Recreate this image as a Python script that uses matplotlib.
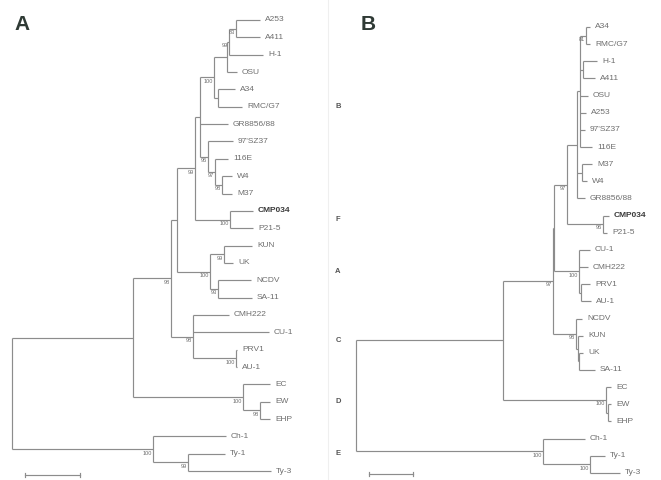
import matplotlib
matplotlib.use("Agg")
import matplotlib.pyplot as plt

# ---------------- Panel A data ----------------
leaves_A = ["A253", "A411", "H-1", "OSU", "A34", "RMC/G7", "GR8856/88", "97'SZ37",
            "116E", "W4", "M37", "CMP034", "P21-5", "KUN", "UK", "NCDV", "SA-11",
            "CMH222", "CU-1", "PRV1", "AU-1", "EC", "EW", "EHP", "Ch-1", "Ty-1", "Ty-3"]
tips_A = [248, 248, 251, 225, 223, 230, 216, 221, 216, 220, 220, 241, 241, 240, 221,
          239, 240, 217, 257, 225, 225, 258, 258, 258, 214, 213, 259]
# (node name, depth, children, bootstrap)
nodes_A = [
    ("AB", 224, ["A253", "A411"], "83"),
    ("Ha", 217, ["AB", "H-1"], "99"),
    ("Hb", 215, ["Ha", "OSU"], ""),
    ("R", 206, ["A34", "RMC/G7"], ""),
    ("N100", 202, ["Hb", "R"], "100"),
    ("U", 210, ["W4", "M37"], "98"),
    ("T", 203, ["116E", "U"], "97"),
    ("S", 196, ["97'SZ37", "T"], "96"),
    ("X", 188, ["N100", "GR8856/88", "S"], ""),
    ("Fn", 218, ["CMP034", "P21-5"], "100"),
    ("Y", 183, ["X", "Fn"], "99"),
    ("KU", 212, ["KUN", "UK"], "99"),
    ("NS", 206, ["NCDV", "SA-11"], "93"),
    ("An", 198, ["KU", "NS"], "100"),
    ("Z", 165, ["Y", "An"], ""),
    ("PA", 224, ["PRV1", "AU-1"], "100"),
    ("Cn", 181, ["CMH222", "CU-1", "PA"], "98"),
    ("W", 159, ["Z", "Cn"], "98"),
    ("EE", 248, ["EW", "EHP"], "98"),
    ("Dn", 231, ["EC", "EE"], "100"),
    ("V", 121, ["W", "Dn"], ""),
    ("Ty", 176, ["Ty-1", "Ty-3"], "99"),
    ("En", 141, ["Ch-1", "Ty"], "100"),
    ("root", 0, ["V", "En"], ""),
]
scale_A = 55

# ---------------- Panel B data ----------------
leaves_B = ["A34", "RMC/G7", "H-1", "A411", "OSU", "A253", "97'SZ37", "116E", "M37",
            "W4", "GR8856/88", "CMP034", "P21-5", "CU-1", "CMH222", "PRV1", "AU-1",
            "NCDV", "KUN", "UK", "SA-11", "EC", "EW", "EHP", "Ch-1", "Ty-1", "Ty-3"]
tips_B = [234, 234, 241, 239, 232, 230, 229, 236, 236, 231, 229, 253, 251, 234, 232,
          234, 235, 226, 227, 227, 239, 255, 255, 255, 229, 249, 264]
nodes_B = [
    ("AR", 230, ["A34", "RMC/G7"], "81"),
    ("HA", 227, ["H-1", "A411"], ""),
    ("T1", 224, ["AR", "HA", "OSU", "A253", "97'SZ37", "116E"], ""),
    ("MW", 226, ["M37", "W4"], ""),
    ("Bn", 221, ["T1", "MW", "GR8856/88"], ""),
    ("Fn", 247, ["CMP034", "P21-5"], "96"),
    ("BF", 211, ["Bn", "Fn"], "97"),
    ("PA", 225, ["PRV1", "AU-1"], ""),
    ("Cn", 223, ["CU-1", "CMH222", "PA"], "100"),
    ("G2", 198, ["BF", "Cn"], ""),
    ("sub2", 223, ["UK", "SA-11"], ""),
    ("sub", 222, ["KUN", "sub2"], ""),
    ("An", 220, ["NCDV", "sub"], "98"),
    ("G1", 197, ["G2", "An"], "97"),
    ("EE", 252, ["EW", "EHP"], ""),
    ("Dn", 250, ["EC", "EE"], "100"),
    ("U", 147, ["G1", "Dn"], ""),
    ("Ty", 234, ["Ty-1", "Ty-3"], "100"),
    ("En", 187, ["Ch-1", "Ty"], "100"),
    ("root", 0, ["U", "En"], ""),
]
scale_B = 44

clade_names = ["B", "F", "A", "C", "D", "E"]
clade_members = [leaves_A[0:11], leaves_A[11:13], leaves_A[13:17],
                 leaves_A[17:21], leaves_A[21:24], leaves_A[24:27]]

LINE = "#8c8c8c"
TEXT = "#6e6e6e"
FONT = ["Liberation Sans", "DejaVu Sans"]

W, H = 661, 480
fig = plt.figure(figsize=(W / 100, H / 100), dpi=100)
fig.patch.set_facecolor("white")


def draw_tree(ax, leaves, tips, nodes, scale, tick_h):
    ypos = {n: i for i, n in enumerate(leaves)}
    xpos = {n: t for n, t in zip(leaves, tips)}
    nd = {n[0]: n for n in nodes}

    def gety(name):
        if name in ypos:
            return ypos[name]
        ch = nd[name][2]
        y = (gety(ch[0]) + gety(ch[-1])) / 2
        ypos[name] = y
        return y

    for name, x, ch, sup in nodes:
        xpos[name] = x
    for name, x, ch, sup in nodes:
        gety(name)
    for name, x, ch, sup in nodes:
        ys = [ypos[c] for c in ch]
        ax.plot([x, x], [min(ys), max(ys)], color=LINE, lw=0.85, solid_capstyle="butt")
        for c in ch:
            ax.plot([x, xpos[c]], [ypos[c], ypos[c]], color=LINE, lw=0.85,
                    solid_capstyle="butt")
        if sup:
            ax.text(x - 1.2, ypos[name] + 0.22, sup, fontsize=4.1, color=TEXT,
                    ha="right", va="center", family=FONT)
    for n, t in zip(leaves, tips):
        bold = n == "CMP034"
        ax.text(t + 5, ypos[n], n, fontsize=6, ha="left", va="center", family=FONT,
                color="#3a3a3a" if bold else TEXT,
                fontweight="bold" if bold else "normal")
    yb = len(leaves) - 1 + tick_h
    x0 = 13
    ax.plot([x0, x0 + scale], [yb, yb], color=LINE, lw=0.85)
    for xx in (x0, x0 + scale):
        ax.plot([xx, xx], [yb - 0.12, yb + 0.12], color=LINE, lw=0.85)
    return ypos


axA = fig.add_axes([0, 0, 330 / W, 1])
axA.set_xlim(-12, 318)
axA.set_ylim((H - 20) / 17.35, -20 / 17.35)
axA.axis("off")
yA = draw_tree(axA, leaves_A, tips_A, nodes_A, scale_A, 0.22)

axB = fig.add_axes([330 / W, 0, 331 / W, 1])
axB.set_xlim(-26, 305)
axB.set_ylim((H - 27) / 17.15, -27 / 17.15)
axB.axis("off")
draw_tree(axB, leaves_B, tips_B, nodes_B, scale_B, 0.08)

# clade letters between panels
for cname, mem in zip(clade_names, clade_members):
    yy = sum(yA[m] for m in mem) / len(mem)
    axA.text(326, yy, cname, fontsize=5.5, color="#555555", ha="center", va="center",
             family=FONT, fontweight="bold", clip_on=False)

# faint divider
axA.plot([316, 316], [-1.2, 26.6], color="#efefef", lw=0.8, clip_on=False)

fig.text(22 / W, 1 - 25 / H, "A", fontsize=15, fontweight="bold", color="#2f3a35",
         ha="center", va="center", family=FONT)
fig.text(368 / W, 1 - 25 / H, "B", fontsize=15, fontweight="bold", color="#2f3a35",
         ha="center", va="center", family=FONT)

fig.savefig("out.png", dpi=100, facecolor="white")
